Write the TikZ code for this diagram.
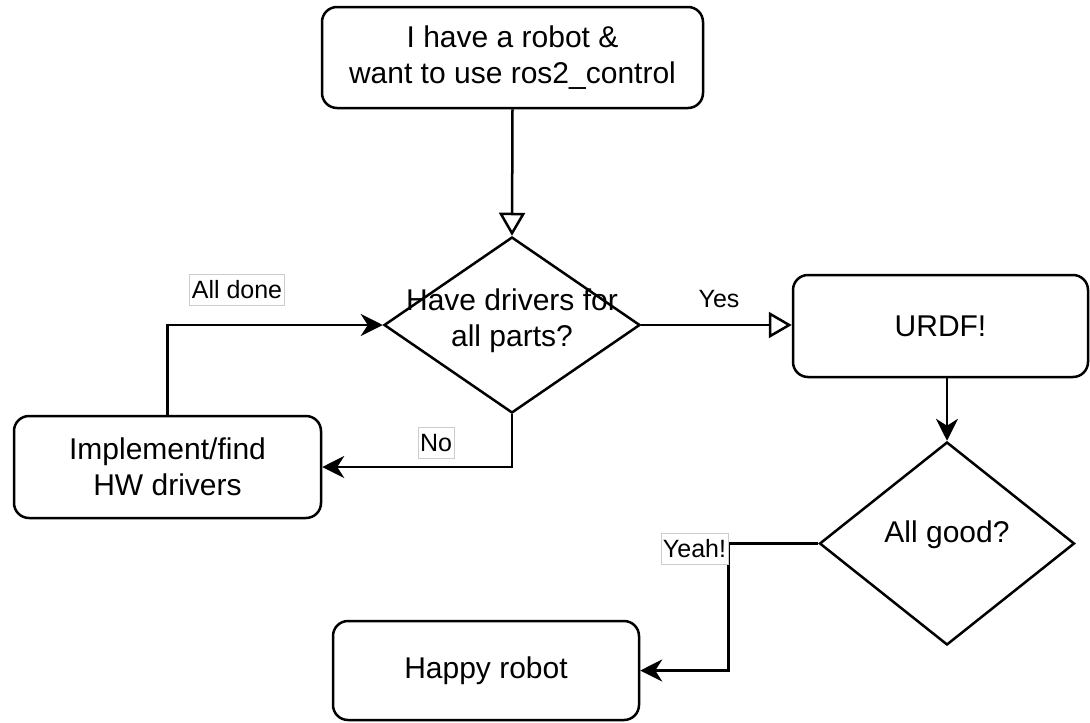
\documentclass[tikz,border=0pt]{standalone}
\usepackage{fontspec}
\setmainfont{Liberation Sans}
\usetikzlibrary{shapes.geometric,arrows.meta}

\tikzset{
  x=1pt, y=-1pt,
  every node/.style={font=\fontsize{30}{36}\selectfont},
  stepbox/.style={draw, line width=2.5pt, rounded corners=15pt, align=center,
    inner sep=0pt},
  decision/.style={draw, diamond, line width=2.5pt, inner sep=0pt},
  flow/.style={line width=2.5pt},
  openhead/.style={-{Triangle[open, length=23pt, width=26pt, line width=2.5pt]}},
  solidhead/.style={-{Stealth[length=22pt, width=22pt, inset=7pt]}},
  edgelabel/.style={font=\fontsize{25}{30}\selectfont, fill=white,
    draw=black!20, line width=0.8pt, inner xsep=2pt, inner ysep=0pt,
    minimum height=31pt},
  plainlabel/.style={font=\fontsize{25}{30}\selectfont, inner sep=0pt}
}

\begin{document}
\begin{tikzpicture}
\useasboundingbox (0,0) rectangle (1090,723);

% boxes and decisions
\node[stepbox, minimum width=381pt, minimum height=101pt] (start) at (512.5,57.5)
  {I have a robot \&\\want to use ros2\_control};
\node[decision, minimum width=256pt, minimum height=176pt] (drivers) at (512,325) {};
\node[align=center, yshift=4pt] (driverstext) at (drivers) {Have drivers for\\all parts?};
\node[stepbox, minimum width=295pt, minimum height=102pt] (urdf) at (940.5,326) {URDF!};
\node[stepbox, minimum width=307pt, minimum height=102pt] (impl) at (167.5,467)
  {Implement/find\\HW drivers};
\node[decision, minimum width=255pt, minimum height=203pt] (good) at (947,543.5) {};
\node[yshift=9pt] (goodtext) at (good) {All good?};
\node[stepbox, minimum width=306pt, minimum height=99pt] (happy) at (486,670.5) {Happy robot};

% connectors
\draw[flow, openhead] (start.south) -- (drivers.north);
\draw[flow, openhead] (drivers.east) -- (urdf.west |- drivers.east);
\draw[flow, solidhead] (drivers.south) |- (impl.east);
\draw[flow, solidhead] (impl.north) |- (drivers.west);
\draw[flow, solidhead] (urdf.south -| good.north) -- (good.north);
\draw[flow, solidhead] (good.west) -- ++(-90,0) |- (happy.east);

% connector labels
\node[plainlabel] (lyes) at (719,299) {Yes};
\node[edgelabel] (lno) at (436,443) {No};
\node[edgelabel] (ldone) at (237,290) {All done};
\node[edgelabel] (lyeah) at (694.5,548.5) {Yeah!};
\end{tikzpicture}
\end{document}
